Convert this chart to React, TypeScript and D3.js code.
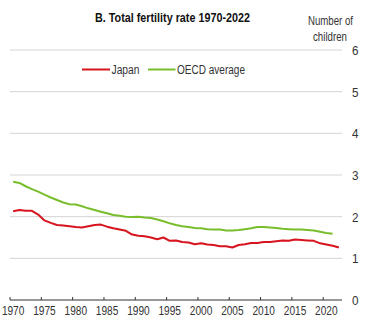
import React from "react";
import * as d3 from "d3";

const years: number[] = d3.range(1970, 2023);
const japan: number[] = [
  2.13, 2.16, 2.14, 2.14, 2.05, 1.91, 1.85, 1.8, 1.79, 1.77,
  1.75, 1.74, 1.77, 1.8, 1.81, 1.76, 1.72, 1.69, 1.66, 1.57,
  1.54, 1.53, 1.5, 1.46, 1.5, 1.42, 1.43, 1.39, 1.38, 1.34,
  1.36, 1.33, 1.32, 1.29, 1.29, 1.26, 1.32, 1.34, 1.37, 1.37,
  1.39, 1.39, 1.41, 1.43, 1.42, 1.45, 1.44, 1.43, 1.42, 1.36,
  1.33, 1.3, 1.26,
];
const oecd: number[] = [
  2.84, 2.81, 2.73, 2.66, 2.6, 2.53, 2.46, 2.4, 2.34, 2.3,
  2.29, 2.25, 2.2, 2.16, 2.12, 2.08, 2.04, 2.02, 2.0, 1.99,
  2.0, 1.98, 1.97, 1.93, 1.89, 1.84, 1.8, 1.77, 1.75, 1.73,
  1.72, 1.7, 1.69, 1.69, 1.67, 1.67, 1.68, 1.7, 1.72, 1.75,
  1.75, 1.74, 1.73, 1.71, 1.7, 1.69, 1.69, 1.68, 1.67, 1.64,
  1.61, 1.59,
];
const yTicks: number[] = [0, 1, 2, 3, 4, 5, 6];
const xTickYears: number[] = [1970, 1975, 1980, 1985, 1990, 1995, 2000, 2005, 2010, 2015, 2020];
const seriesNames: string[] = ["Japan", "OECD average"];
const colors: string[] = ["#d7141e", "#78be2c"];

const FONT = "'Liberation Sans', Arial, sans-serif";

export default function App() {
  const W = 392, H = 333;
  const x0 = 10, x1 = 342;
  const band = d3.scaleBand<number>().domain(years).range([x0, x1]).padding(0);
  const xc = (yr: number) => (band(yr) as number) + band.bandwidth() / 2;
  const y = d3.scaleLinear().domain([0, 6]).range([300, 50]);

  const lineJ = d3.line<number>().x((_, i) => xc(years[i])).y((d) => y(d))(japan) as string;
  const lineO = d3.line<number>().x((_, i) => xc(years[i])).y((d) => y(d))(oecd) as string;

  return (
    <svg width={W} height={H} style={{ position: "absolute", left: 0, top: 0, background: "#fff" }} fontFamily={FONT}>
      <text x={172.5} y={22} textAnchor="middle" fontWeight="bold" fontSize={12.5} fill="#111" textLength={155} lengthAdjust="spacingAndGlyphs">
        B. Total fertility rate 1970-2022
      </text>
      <text x={330.5} y={25} textAnchor="middle" fontSize={12} fill="#333" textLength={45} lengthAdjust="spacingAndGlyphs">Number of</text>
      <text x={330} y={41} textAnchor="middle" fontSize={12} fill="#333" textLength={34} lengthAdjust="spacingAndGlyphs">children</text>

      {yTicks.filter((t) => t > 0).map((t) => (
        <line key={t} x1={x0} x2={x1} y1={y(t)} y2={y(t)} stroke="#d4d4d4" strokeWidth={1} />
      ))}
      {yTicks.map((t) => (
        <text key={"l" + t} x={352} y={y(t) + 5} fontSize={13} fill="#333" textLength={6.5} lengthAdjust="spacingAndGlyphs">{t}</text>
      ))}

      <line x1={x0} x2={x1} y1={y(0)} y2={y(0)} stroke="#333" strokeWidth={1} />
      {xTickYears.map((yr) => (
        <g key={yr}>
          <line x1={band(yr)} x2={band(yr)} y1={y(0)} y2={y(0) - 3} stroke="#333" strokeWidth={1} />
          <text x={xc(yr)} y={314.5} textAnchor="middle" fontSize={12.5} fill="#333" textLength={22.5} lengthAdjust="spacingAndGlyphs">{yr}</text>
        </g>
      ))}

      <path d={lineO} fill="none" stroke={colors[1]} strokeWidth={2} strokeLinejoin="round" />
      <path d={lineJ} fill="none" stroke={colors[0]} strokeWidth={2} strokeLinejoin="round" />

      <line x1={82} x2={110} y1={69.5} y2={69.5} stroke={colors[0]} strokeWidth={2} />
      <text x={111.5} y={74} fontSize={12.5} fill="#333" textLength={28} lengthAdjust="spacingAndGlyphs">{seriesNames[0]}</text>
      <line x1={148} x2={175.5} y1={69.5} y2={69.5} stroke={colors[1]} strokeWidth={2} />
      <text x={177} y={74} fontSize={12.5} fill="#333" textLength={68} lengthAdjust="spacingAndGlyphs">{seriesNames[1]}</text>
    </svg>
  );
}
